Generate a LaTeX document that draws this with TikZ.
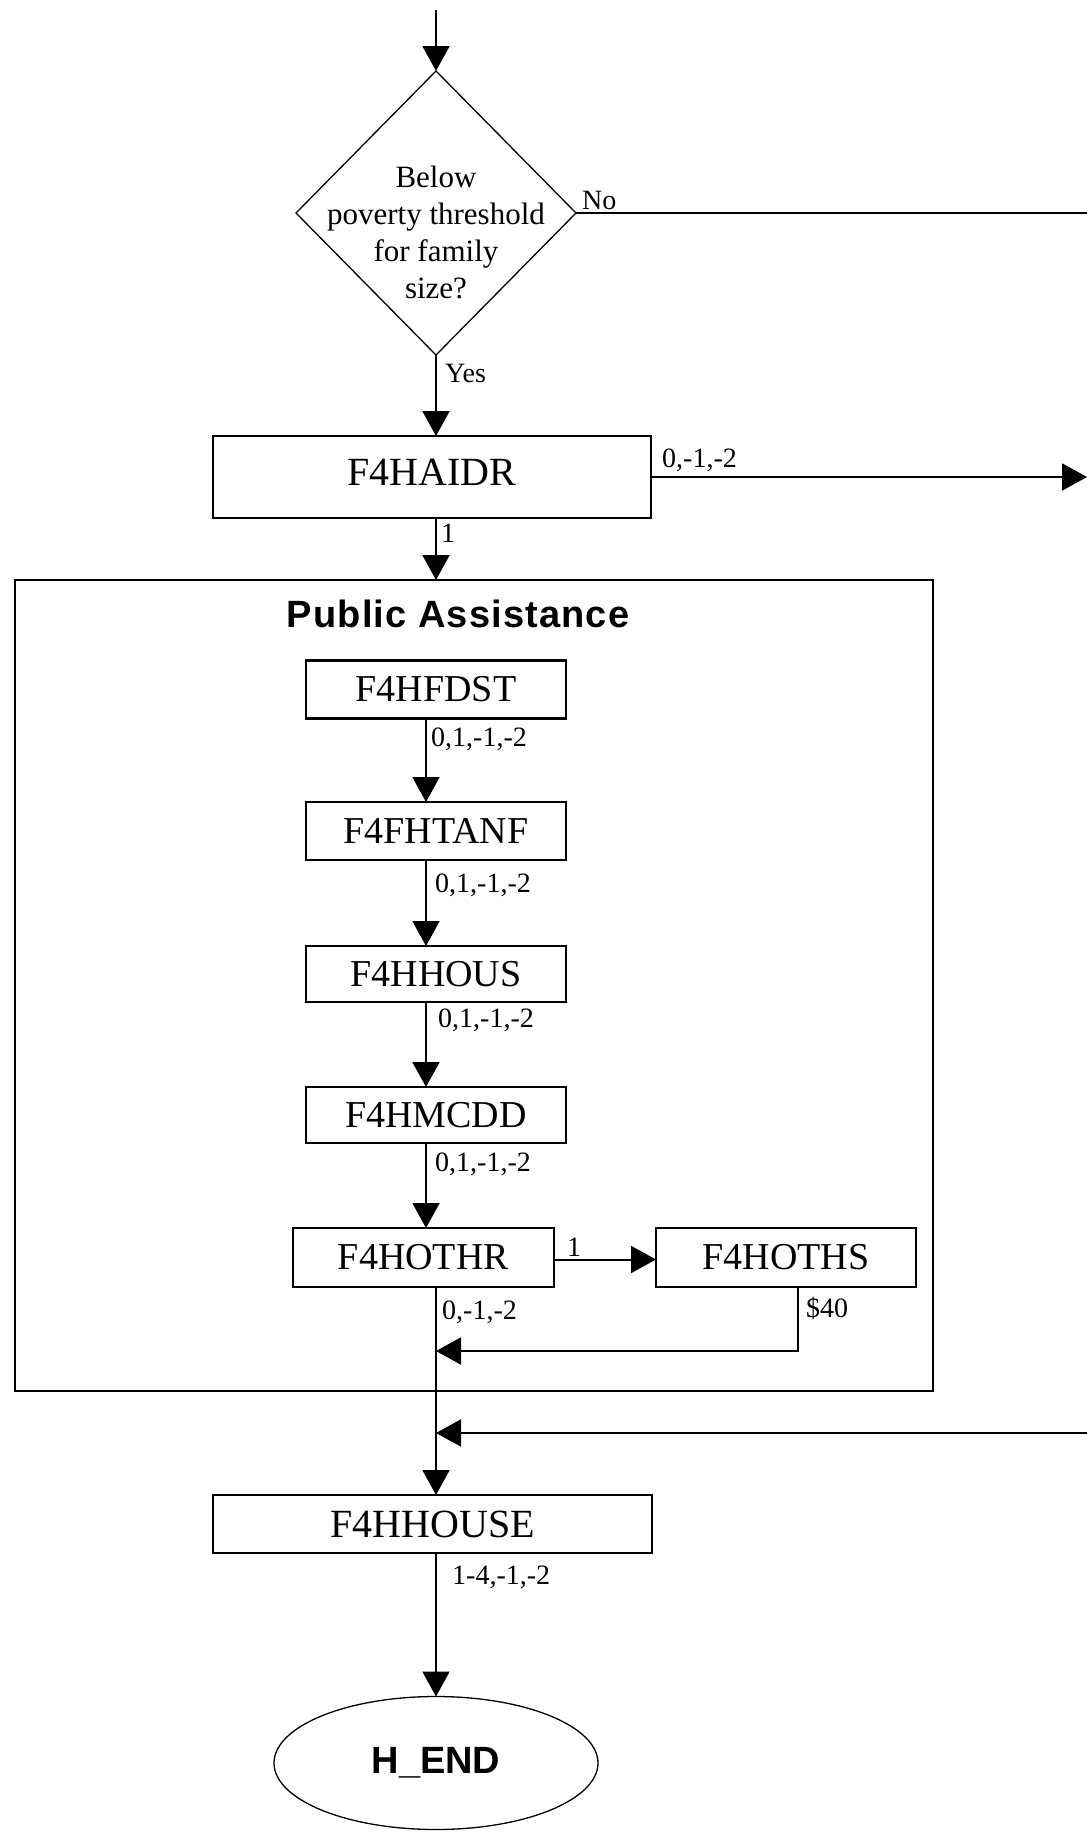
\documentclass[tikz,border=0pt]{standalone}
\usepackage{fontspec}
\setmainfont{Liberation Serif}
\newfontfamily\hsans{Liberation Sans}
\usetikzlibrary{arrows.meta,shapes.geometric}
\tikzset{
  arr/.style={-{Triangle[length=25pt,width=27pt]}},
  conn/.style={line width=2pt},
  bigbox/.style={draw, line width=2.2pt, rectangle, inner sep=0pt, outer sep=0pt,
    font=\fontsize{40}{42}\selectfont},
  inbox/.style={draw, line width=2.2pt, rectangle, inner sep=0pt, outer sep=0pt,
    minimum width=260pt, font=\fontsize{38}{40}\selectfont},
  lbl/.style={inner sep=0pt, anchor=west, font=\fontsize{28}{30}\selectfont},
  headline/.style={inner sep=0pt, font=\hsans\bfseries\fontsize{38}{40}\selectfont\addfontfeatures{LetterSpace=3}},
}
\begin{document}
\begin{tikzpicture}[x=1pt,y=-1pt]
\path[fill=white, use as bounding box] (0,0) rectangle (1087,1832);

% coordinates for free ends
\coordinate (top) at (436,10);
\coordinate (noend) at (1087,213);
\coordinate (aidrend) at (1087,477);
\coordinate (j1) at (436,1351);
\coordinate (r2) at (1087,1433);
\coordinate (j2) at (436,1433);

% decision
\node[draw, diamond, line width=1.3pt, minimum width=280pt, minimum height=284pt,
      inner sep=0pt, outer sep=0pt] (q) at (436,213) {};
\node[inner sep=0pt, align=center, font=\fontsize{31}{37}\selectfont] (qtext) at (436,232)
  {Below\\poverty threshold\\for family\\size?};

% boxes
\node[bigbox, minimum width=438pt, minimum height=82pt] (haidr) at (432,477) {\raisebox{10pt}{F4HAIDR}};
\node[draw, line width=2pt, rectangle, inner sep=0pt, outer sep=0pt,
      minimum width=918pt, minimum height=811pt] (pa) at (474,985.5) {};
\node[headline] (patitle) at (458,614) {Public Assistance};

\node[inbox, minimum height=58pt] (fdst) at (436,689.5) {F4HFDST};
\node[inbox, minimum height=58pt] (htanf) at (436,831) {F4FHTANF};
\node[inbox, minimum height=56pt] (hhous) at (436,974) {F4HHOUS};
\node[inbox, minimum height=56pt] (mcdd) at (436,1115) {F4HMCDD};
\node[inbox, minimum width=261pt, minimum height=59pt] (othr) at (423.5,1257.5) {F4HOTHR};
\node[inbox, minimum height=59pt] (oths) at (786,1257.5) {F4HOTHS};

\node[bigbox, minimum width=439pt, minimum height=58pt] (hhouse) at (432.5,1524) {F4HHOUSE};
\node[draw, ellipse, line width=1.3pt, minimum width=324pt, minimum height=133pt,
      inner sep=0pt, outer sep=0pt, font=\hsans\bfseries\fontsize{38}{40}\selectfont]
      (hend) at (436,1763) {H\_END};

% connectors
\draw[conn, arr] (top) -- (q.north);
\draw[conn] (q.east) -- (noend);
\node[lbl] (lno) at (582,200) {No};
\draw[conn, arr] (q.south) -- (q.south |- haidr.north);
\node[lbl] (lyes) at (445,373) {Yes};
\draw[conn, arr] (haidr.east |- aidrend) -- (aidrend);
\node[lbl] (laidr) at (662,460) {0,-1,-2};
\draw[conn, arr] (haidr.south -| top) -- (pa.north -| top);
\node[lbl] (lone) at (441,533) {1};

\draw[conn, arr] ([xshift=-10pt]fdst.south) -- ([xshift=-10pt]htanf.north);
\node[lbl] (l1) at (431,739) {0,1,-1,-2};
\draw[conn, arr] ([xshift=-10pt]htanf.south) -- ([xshift=-10pt]hhous.north);
\node[lbl] (l2) at (435,885) {0,1,-1,-2};
\draw[conn, arr] ([xshift=-10pt]hhous.south) -- ([xshift=-10pt]mcdd.north);
\node[lbl] (l3) at (438,1020) {0,1,-1,-2};
\draw[conn, arr] ([xshift=-10pt]mcdd.south) -- ([xshift=-10pt]mcdd.south |- othr.north);
\node[lbl] (l4) at (435,1164) {0,1,-1,-2};

\draw[conn, arr] ([yshift=-2pt]othr.east) -- ([yshift=-2pt]oths.west);
\node[lbl] (l5) at (567,1247) {1};
\draw[conn] (othr.south -| top) -- (j2);
\node[lbl] (l6) at (442,1312) {0,-1,-2};
\draw[conn, arr] ([xshift=12pt]oths.south) |- (j1);
\node[lbl] (l7) at (806,1308) {\$40};
\draw[conn, arr] (r2) -- (j2);
\draw[conn, arr] (j2) -- (hhouse.north -| top);

\draw[conn, arr] (hhouse.south -| top) -- (hend.north);
\node[lbl] (l8) at (452,1577) {1-4,-1,-2};
\end{tikzpicture}
\end{document}
